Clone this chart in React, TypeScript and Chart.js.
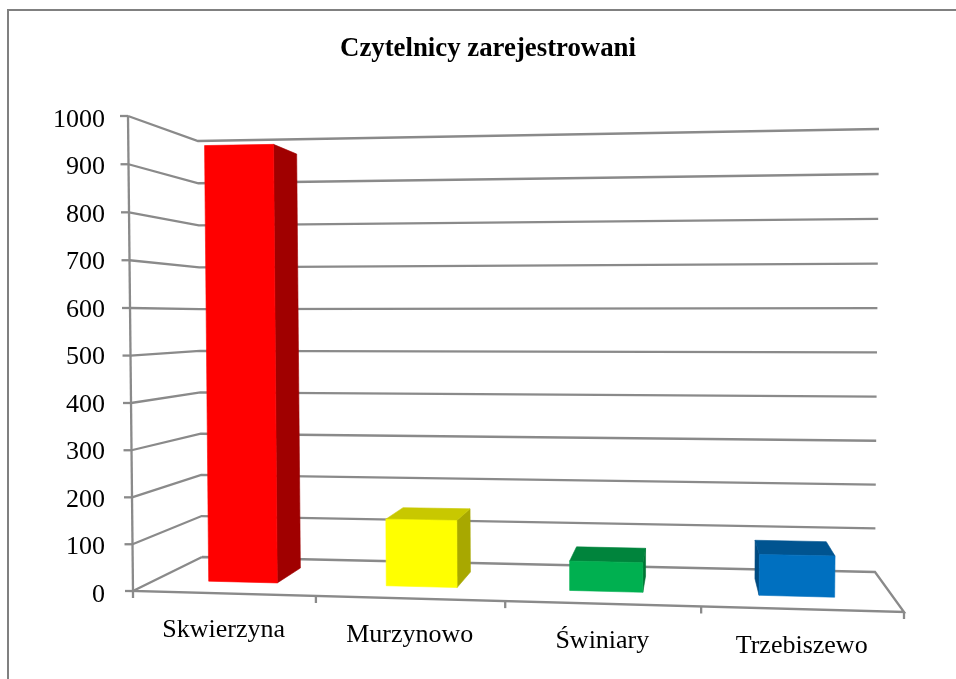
import React, { useEffect, useRef } from "react";
import { Chart, registerables, BarController, CategoryScale, LinearScale } from "chart.js";

const categories = ["Skwierzyna", "Murzynowo", "Świniary", "Trzebiszewo"];
const readers = [952, 145, 63, 86];
const frontColors = ["#FF0000", "#FFFF00", "#00B050", "#0070C0"];
const topColors = ["#C00000", "#C8C800", "#00843C", "#005490"];
const sideColors = ["#A00000", "#A8A800", "#007434", "#004A80"];
const yTicks = { min: 0, max: 1000, stepSize: 100 };
const chartTitle = "Czytelnicy zarejestrowani";

const SERIF = "'Liberation Serif', 'Times New Roman', serif";
const GRID = "#8A8A8A";

// The view of the 3D box: corners as [front-left, front-right, back-right, back-left].
const FLOOR = [[133, 591], [904, 612], [875, 572], [202, 557]];
const CEILING = [[128, 116], [912, 100], [879, 129], [198, 141]];
const BAR_DEPTH = [0.3, 0.73];
const U_WARP = 0.033;
const V_WARP = 0.0175;

function homography(q: number[][]) {
  const [[x0, y0], [x1, y1], [x2, y2], [x3, y3]] = q;
  const dx1 = x1 - x2, dx2 = x3 - x2, sx = x0 - x1 + x2 - x3;
  const dy1 = y1 - y2, dy2 = y3 - y2, sy = y0 - y1 + y2 - y3;
  const den = dx1 * dy2 - dx2 * dy1;
  const g = (sx * dy2 - dx2 * sy) / den;
  const h = (dx1 * sy - sx * dy1) / den;
  const a = x1 - x0 + g * x1, b = x3 - x0 + h * x3;
  const d = y1 - y0 + g * y1, e = y3 - y0 + h * y3;
  return (u: number, w: number) => {
    const k = g * u + h * w + 1;
    return [(a * u + b * w + x0) / k, (d * u + e * w + y0) / k];
  };
}
const floorMap = homography(FLOOR);
const ceilingMap = homography(CEILING);

function project(u: number, depth: number, vRaw: number) {
  const v = vRaw - V_WARP * vRaw * (1 - vRaw);
  const p = floorMap(u + U_WARP * u * (1 - u), depth);
  const q = ceilingMap(u, depth);
  return [p[0] + (q[0] - p[0]) * v, p[1] + (q[1] - p[1]) * v];
}

function fillPoly(ctx: CanvasRenderingContext2D, pts: number[][], color: string) {
  ctx.beginPath();
  pts.forEach((p, i) => (i ? ctx.lineTo(p[0], p[1]) : ctx.moveTo(p[0], p[1])));
  ctx.closePath();
  ctx.fillStyle = color;
  ctx.fill();
  ctx.strokeStyle = color;
  ctx.lineWidth = 0.6;
  ctx.stroke();
}

function strokePoly(ctx: CanvasRenderingContext2D, pts: number[][]) {
  ctx.beginPath();
  pts.forEach((p, i) => (i ? ctx.lineTo(p[0], p[1]) : ctx.moveTo(p[0], p[1])));
  ctx.stroke();
}

class Box3DController extends BarController {
  static id = "box3d";
  static defaults = BarController.defaults;
  static overrides = BarController.overrides;
  draw() {
    const chart = this.chart;
    const ctx = chart.ctx;
    const area = chart.chartArea;
    const [d0, d1] = BAR_DEPTH;
    this.getMeta().data.forEach((el: any, i: number) => {
      const u0 = (el.x - el.width / 2 - area.left) / (area.right - area.left);
      const u1 = (el.x + el.width / 2 - area.left) / (area.right - area.left);
      const v = (area.bottom - el.y) / (area.bottom - area.top);
      const fbl = project(u0, d0, 0), fbr = project(u1, d0, 0);
      const ftl = project(u0, d0, v), ftr = project(u1, d0, v);
      const bbl = project(u0, d1, 0), bbr = project(u1, d1, 0);
      const btl = project(u0, d1, v), btr = project(u1, d1, v);
      if (btl[0] < ftl[0]) fillPoly(ctx, [ftl, btl, bbl, fbl], sideColors[i]);
      if (btr[0] > ftr[0]) fillPoly(ctx, [ftr, btr, bbr, fbr], sideColors[i]);
      if (btl[1] < ftl[1]) fillPoly(ctx, [ftl, ftr, btr, btl], topColors[i]);
      fillPoly(ctx, [ftl, ftr, fbr, fbl], el.options.backgroundColor);
    });
  }
}

class SlantCategoryScale extends CategoryScale {
  static id = "slantCategory";
  static defaults = CategoryScale.defaults;
  _computeLabelItems(chartArea: any) {
    const items = super._computeLabelItems(chartArea);
    const w = this.right - this.left;
    items.forEach((item: any, i: number) => {
      const u = (this.getPixelForTick(i) - this.left) / w;
      const p = project(u, 0, 0);
      item.textOffset = 0;
      item.options.textAlign = "center";
      item.options.textBaseline = "middle";
      item.options.translation = [p[0], p[1] + 37];
    });
    return items;
  }
}

class NudgedLinearScale extends LinearScale {
  static id = "nudgedLinear";
  static defaults = LinearScale.defaults;
  _computeLabelArea() {
    return undefined;
  }
  _computeLabelItems(chartArea: any) {
    const items = super._computeLabelItems(chartArea);
    items.forEach((item: any) => {
      const t = item.options.translation;
      item.options.translation = [t[0], t[1] + 4];
    });
    return items;
  }
}

Chart.register(...registerables, Box3DController, SlantCategoryScale, NudgedLinearScale);

const framePlugin = {
  id: "frame",
  beforeDraw(chart: any) {
    const ctx = chart.ctx;
    ctx.save();
    ctx.strokeStyle = "#808080";
    ctx.lineWidth = 2;
    ctx.strokeRect(8, 10, 1100, 1000);
    ctx.restore();
  },
};

const wallsPlugin = {
  id: "walls",
  beforeDatasetsDraw(chart: any) {
    const { ctx, chartArea: area, scales } = chart;
    const y = scales.y, x = scales.x;
    ctx.save();
    ctx.strokeStyle = GRID;
    ctx.lineWidth = 2.3;
    ctx.lineJoin = "miter";
    y.ticks.forEach((t: any) => {
      const v = (area.bottom - y.getPixelForValue(t.value)) / (area.bottom - area.top);
      const a = project(0, 0, v);
      strokePoly(ctx, [[a[0] - 8, a[1]], a]);
      if (t.value > 0) strokePoly(ctx, [a, project(0, 1, v), project(1, 1, v)]);
    });
    strokePoly(ctx, [project(0, 0, 0), project(0, 0, 1)]);
    strokePoly(ctx, [project(0, 1, 0), project(0, 0, 0), project(1, 0, 0), project(1, 1, 0), project(0, 1, 0)]);
    categories.concat([""]).forEach((_, i) => {
      const u = (x.getPixelForValue(i - 0.5) - area.left) / (area.right - area.left);
      const p = project(u, 0, 0);
      strokePoly(ctx, [p, [p[0], p[1] + 7]]);
    });
    ctx.restore();
  },
};

export default function App() {
  const ref = useRef<HTMLCanvasElement | null>(null);
  useEffect(() => {
    const chart = new Chart(ref.current as HTMLCanvasElement, {
      type: "box3d" as any,
      data: {
        labels: categories,
        datasets: [
          {
            label: chartTitle,
            data: readers,
            backgroundColor: frontColors,
            categoryPercentage: 1,
            barPercentage: 0.39,
            clip: false,
          },
        ],
      },
      plugins: [framePlugin, wallsPlugin],
      options: {
        animation: false,
        responsive: false,
        layout: { padding: { left: 72, right: 52, top: 0, bottom: 0 } },
        plugins: {
          legend: { display: false },
          tooltip: { enabled: false },
          title: {
            display: true,
            text: chartTitle,
            color: "#000",
            font: { family: SERIF, size: 26.8, weight: "bold", lineHeight: 1.2 },
            padding: { top: 33, bottom: 51 },
          },
        },
        scales: {
          x: {
            type: "slantCategory",
            offset: true,
            grid: { display: false },
            border: { display: false },
            ticks: {
              autoSkip: false,
              maxRotation: 0,
              color: "#000",
              font: { family: SERIF, size: 26 },
            },
            afterFit(s: any) {
              s.height = 88;
              s.paddingLeft = 0;
              s.paddingRight = 0;
            },
          },
          y: {
            type: "nudgedLinear",
            min: yTicks.min,
            max: yTicks.max,
            grid: { display: false },
            border: { display: false },
            ticks: {
              stepSize: yTicks.stepSize,
              color: "#000",
              padding: 20,
              font: { family: SERIF, size: 26 },
              callback: (value: any) => String(value),
            },
            afterFit(s: any) {
              s.width = 61;
              s.paddingTop = 0;
              s.paddingBottom = 0;
            },
          },
        },
      } as any,
    });
    return () => chart.destroy();
  }, []);
  return (
    <div style={{ position: "absolute", left: 0, top: 0, width: 956, height: 679, background: "#fff", overflow: "hidden" }}>
      <canvas ref={ref} width={956} height={679} style={{ display: "block" }} />
    </div>
  );
}
